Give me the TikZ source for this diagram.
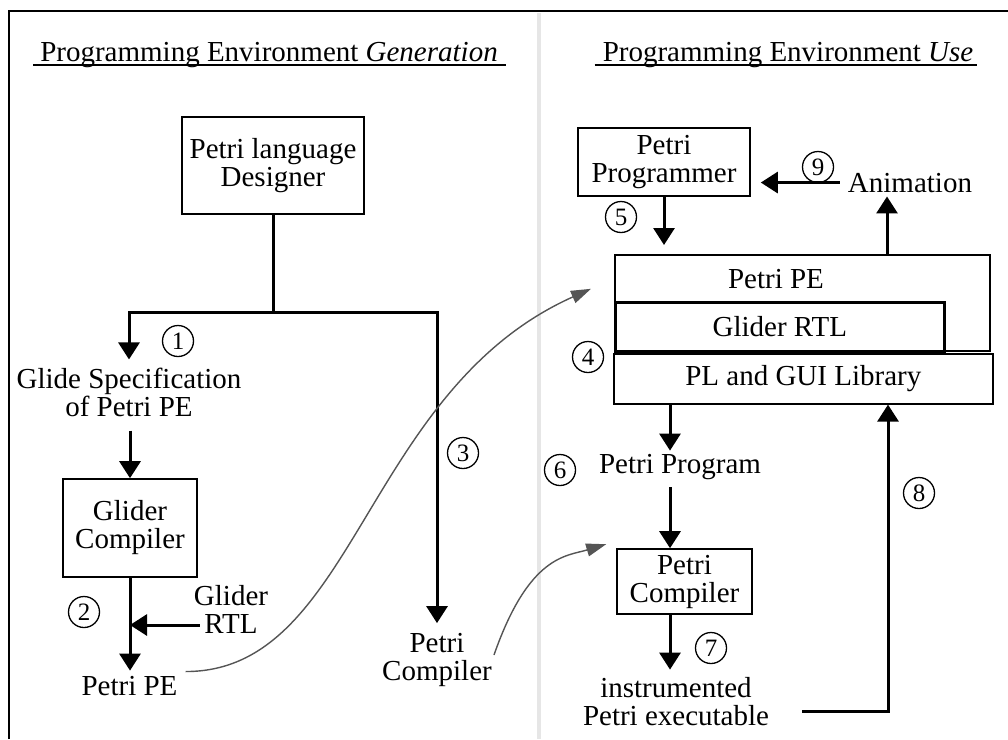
\documentclass[tikz,border=0pt]{standalone}
\usepackage{fontspec}
\setmainfont{Liberation Serif}
\usetikzlibrary{arrows.meta}
\definecolor{curvegray}{RGB}{85,85,85}
\definecolor{divider}{RGB}{230,230,230}
\begin{document}
\begin{tikzpicture}[x=1pt,y=-1pt,
  txt/.style={font=\fontsize{29}{28}\selectfont, inner sep=0pt, align=center},
  box/.style={txt, draw, line width=1.6pt},
  num/.style={circle, draw, line width=1.3pt, minimum size=31pt, inner sep=0pt,
              font=\fontsize{25}{25}\selectfont},
  flow/.style={line width=3pt, -{Triangle[length=17pt,width=21pt]}},
  link/.style={line width=3pt},
  gcurve/.style={draw=curvegray, line width=1.4pt, -{Triangle[length=20pt,width=13pt]}},
]
\useasboundingbox (0,0) rectangle (1008,739);

% frame and column divider
\draw[line width=2pt] (9,739) -- (9,11) -- (1008,11);
\draw[divider, line width=4pt] (539,13) -- (539,739);

% column headings
\node[txt, anchor=base] (genT) at (269,61) {Programming Environment \textit{Generation}};
\draw[line width=2pt] ([xshift=-7pt,yshift=-4pt]genT.base west) -- ([xshift=8pt,yshift=-4pt]genT.base east);
\node[txt, anchor=base] (useT) at (788,61) {Programming Environment \textit{Use}};
\draw[line width=2pt] ([xshift=-8pt,yshift=-4pt]useT.base west) -- ([xshift=4pt,yshift=-4pt]useT.base east);

% ---------- generation side ----------
\node[box, minimum width=182pt, minimum height=97pt] (des) at (273,165.5) {Petri language\\Designer};
\coordinate (split) at (des.south |- 0,312);
\node[txt] (spec) at (129,392) {Glide Specification\\of Petri PE};
\node[txt] (pc1) at (437,660) {Petri\\Compiler};
\node[box, minimum width=134pt, minimum height=98pt] (gc) at (130,528) {Glider\\Compiler};
\node[txt, anchor=base] (ppe) at (129.5,695) {Petri PE};
\node[txt] (rtl) at (231,609) {Glider\\RTL};

\draw[link] (des.south) -- (split);
\draw[flow] (split) -| ([yshift=8pt]spec.north);
\draw[flow] (split) -| ([yshift=10pt]pc1.north);
\draw[flow, shorten <=14pt] (spec.south -| gc.north) -- (gc.north);
\draw[flow, shorten >=5pt] (gc.south) -- (ppe.north -| gc.south);
\draw[flow] ([xshift=6pt,yshift=-16pt]rtl.west) -- ([yshift=-16pt]rtl.west -| gc.south);

\node[num] (n1) at (178,341) {1};
\node[num] (n2) at (84,612) {2};
\node[num] (n3) at (463,453) {3};

% ---------- use side ----------
\node[box, minimum width=172pt, minimum height=68pt] (pp) at (664,162) {Petri\\Programmer};
\node[txt, anchor=base] (anim) at (910,192) {Animation};

\node[draw, line width=1.6pt, minimum width=375pt, minimum height=96pt, inner sep=0pt,
      anchor=north west] (pe) at (614,254) {};
\node[txt, anchor=base] (peText) at (776,288) {Petri PE};
\node[box, line width=2.6pt, minimum width=329pt, minimum height=49pt, anchor=north west]
      (grtl) at (614,301) {Glider RTL};
\node[box, minimum width=379pt, minimum height=50pt, anchor=north west]
      (pl) at (613,353) {PL and GUI Library};

\coordinate (colA) at (670,0);
\coordinate (colB) at (888,0);
\node[txt, anchor=base] (pprog) at (680,473) {Petri Program};
\node[box, minimum width=135pt, minimum height=65pt] (pc2) at (684.5,581.5) {Petri\\Compiler};
\node[txt] (exe) at (676,702) {instrumented\\Petri executable};

\coordinate (up) at ([xshift=-23pt,yshift=-4pt]anim.south);
\draw[flow, shorten <=8pt, shorten >=10pt] (anim.west) -- (anim.west -| pp.east);
\draw[flow, shorten >=9pt] (pp.south) -- (pp.south |- pe.north);
\draw[flow] (pe.north -| up) -- (up);
\draw[flow, shorten >=3pt] (pl.south -| colA) -- (pprog.north -| colA);
\draw[flow, shorten <=8pt] (pprog.south -| colA) -- (pc2.north -| colA);
\draw[flow, shorten >=8pt] (pc2.south -| colA) -- (exe.north -| colA);
\draw[flow] ([xshift=33pt,yshift=-9pt]exe.east) -| (pl.south -| colB);

\node[num] (n4) at (588,357) {4};
\node[num] (n5) at (621,217) {5};
\node[num] (n6) at (560,470) {6};
\node[num] (n7) at (711,648) {7};
\node[num] (n8) at (919,493) {8};
\node[num] (n9) at (818,167) {9};

% ---------- hand-over curves ----------
\coordinate (peIn) at ([xshift=-23pt,yshift=14pt]pe.west);
\coordinate (pcIn) at ([xshift=-10pt,yshift=4pt]pc2.north west);
\draw[gcurve] ([xshift=8pt,yshift=14pt]ppe.east) .. controls +(170,0) and +(-228,102) .. (peIn);
\draw[gcurve] ([xshift=2pt,yshift=5pt]pc1.east) .. controls +(35,-100) and +(-40,12) .. (pcIn);

\end{tikzpicture}
\end{document}
